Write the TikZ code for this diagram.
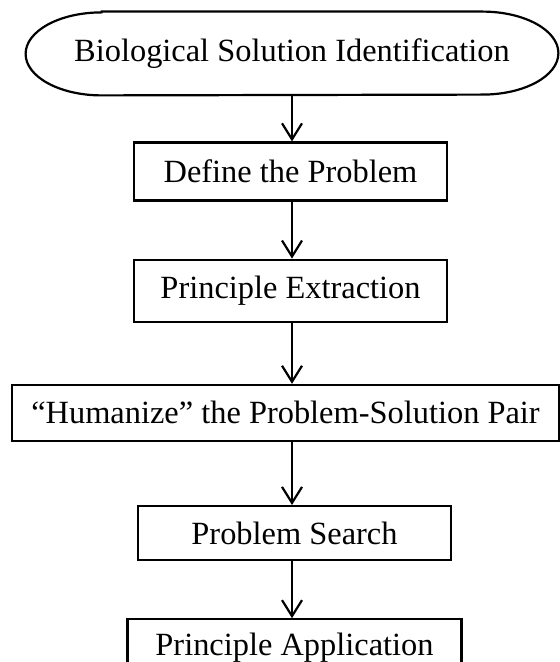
\documentclass[tikz,border=0pt]{standalone}
\usepackage{fontspec}
\setmainfont{Liberation Serif}
\usetikzlibrary{positioning,arrows.meta}

\begin{document}
\begin{tikzpicture}[
    auto,
    node distance=28.5pt,
    nodes={font=\fontsize{16.2}{19}\selectfont},
    block/.style={rectangle, draw, line width=1.1pt, align=center, minimum width=156.5pt, minimum height=28pt, inner sep=0pt},
    terminal/.style={rectangle, minimum width=266pt, minimum height=41.5pt, inner sep=0pt},
    line/.style={draw, line width=1.1pt, -{Straight Barb[length=8pt,width=10pt,line width=1.1pt]}}
]
    \useasboundingbox (0,0) rectangle (280pt,-331pt);

    % Place nodes
    \node [terminal] (ident) at (146pt,-26.75pt) {Biological Solution Identification};
    \node [block, below=23pt of ident, xshift=-0.75pt, minimum height=29pt] (define) {Define the Problem};
    \node [block, below=of define, minimum height=31pt] (extract) {Principle Extraction};
    \node [block, below=30.5pt of extract, xshift=-2.5pt, minimum width=273.5pt] (humanize) {``Humanize'' the Problem-Solution Pair};
    \node [block, below=31.5pt of humanize, xshift=4.5pt, minimum height=27pt] (search) {Problem Search};
    \node [block, below=of search, minimum width=167pt] (apply) {Principle Application};

    % Terminal outline
    \draw [line width=1.1pt] ([xshift=38pt]ident.north west) -- ([xshift=-38pt]ident.north east)
        arc [start angle=90, end angle=-90, x radius=38pt, y radius=20.75pt]
        -- ([xshift=38pt]ident.south west)
        arc [start angle=270, end angle=90, x radius=38pt, y radius=20.75pt] -- cycle;

    % Draw edges
    \path [line] (ident.south) -- (ident.south |- define.north);
    \path [line] (define.south -| ident) -- (extract.north -| ident);
    \path [line] (extract.south -| ident) -- (humanize.north -| ident);
    \path [line] (humanize.south -| ident) -- (search.north -| ident);
    \path [line] (search.south -| ident) -- (apply.north -| ident);
\end{tikzpicture}
\end{document}
